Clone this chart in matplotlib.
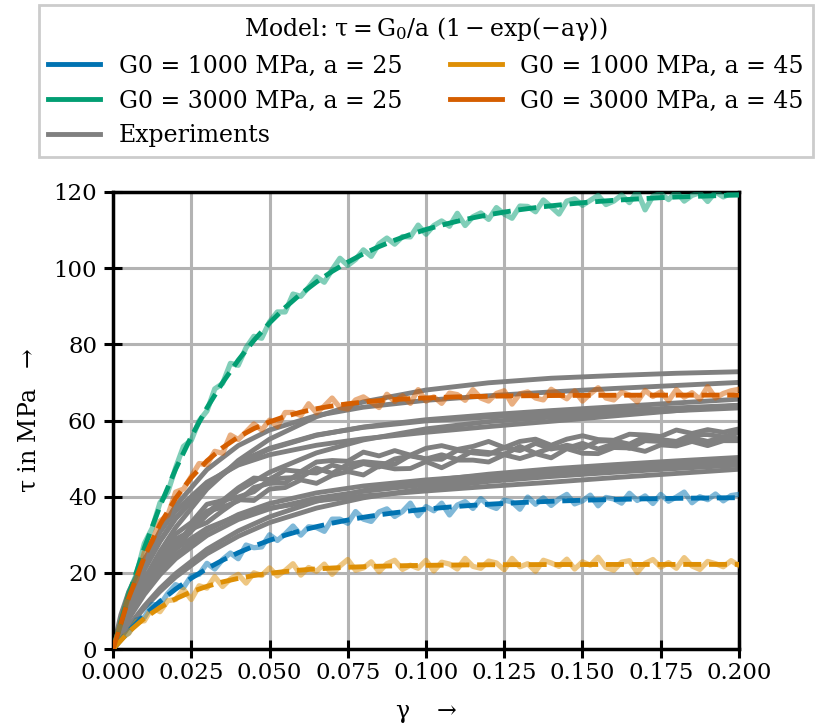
import numpy as np
import matplotlib
matplotlib.use("Agg")
import matplotlib.pyplot as plt
from matplotlib.lines import Line2D

plt.rcParams['font.family'] = ['DejaVu Serif']
plt.rcParams['mathtext.fontset'] = 'dejavuserif'
plt.rcParams['mathtext.default'] = 'regular'

# --- model curves, tau = G0/a (1 - exp(-a*gamma)) ---
gamma_model = np.linspace(0, 0.2, 41)
model_1000_25 = [0, 4.70, 8.85, 12.51, 15.74, 18.59, 21.10, 23.32, 25.28, 27.01, 28.54, 29.89, 31.08,
                 32.12, 33.05, 33.86, 34.59, 35.22, 35.78, 36.28, 36.72, 37.10, 37.44, 37.74, 38.01,
                 38.24, 38.45, 38.63, 38.79, 38.93, 39.06, 39.17, 39.27, 39.35, 39.43, 39.50, 39.56,
                 39.61, 39.65, 39.70, 39.73]
model_3000_25 = [0, 14.10, 26.55, 37.53, 47.22, 55.77, 63.30, 69.96, 75.84, 81.03, 85.62, 89.67, 93.24,
                 96.36, 99.15, 101.58, 103.77, 105.66, 107.34, 108.84, 110.16, 111.30, 112.32, 113.22,
                 114.03, 114.72, 115.35, 115.89, 116.37, 116.79, 117.18, 117.51, 117.81, 118.05, 118.29,
                 118.50, 118.68, 118.83, 118.95, 119.10, 119.19]
model_1000_45 = [0, 4.48, 8.05, 10.91, 13.19, 15.01, 16.46, 17.62, 18.55, 19.29, 19.88, 20.35, 20.73,
                 21.03, 21.27, 21.46, 21.61, 21.74, 21.83, 21.91, 21.97, 22.02, 22.06, 22.10, 22.12,
                 22.14, 22.16, 22.17, 22.18, 22.19, 22.19, 22.20, 22.20, 22.21, 22.21, 22.21, 22.21,
                 22.22, 22.22, 22.22, 22.22]
model_3000_45 = [0, 13.43, 24.16, 32.72, 39.56, 45.02, 49.39, 52.87, 55.65, 57.87, 59.64, 61.06, 62.19,
                 63.09, 63.81, 64.39, 64.85, 65.22, 65.51, 65.74, 65.93, 66.07, 66.20, 66.29, 66.37,
                 66.43, 66.48, 66.52, 66.55, 66.58, 66.60, 66.61, 66.63, 66.64, 66.65, 66.65, 66.66,
                 66.66, 66.66, 66.67, 66.67]

# --- noisy synthetic data around each model ---
gamma_fine = np.linspace(0, 0.2, 81)
data_1000_25 = [0, 2.7, 4.2, 7.6, 8.3, 11.7, 11.6, 14.6, 16.9, 16.1, 19.2, 19.6, 22.5, 21.0, 23.5, 25.2,
                23.7, 27.3, 26.6, 26.8, 30.0, 28.5, 30.2, 32.3, 29.9, 32.1, 31.9, 30.9, 34.1, 34.1, 33.0,
                36.1, 34.1, 33.5, 36.0, 36.8, 34.8, 36.1, 38.3, 35.0, 37.4, 36.3, 38.3, 35.2, 37.8, 38.7,
                36.9, 39.5, 37.7, 36.9, 39.1, 38.6, 36.7, 39.9, 38.0, 39.7, 37.7, 39.4, 40.6, 38.1, 38.9,
                40.4, 37.6, 39.8, 39.4, 38.3, 40.9, 39.0, 40.2, 38.2, 40.6, 38.8, 39.9, 41.2, 38.4, 40.0,
                39.2, 40.7, 38.9, 40.3, 40.6]
data_3000_25 = [0, 6.9, 14.8, 19.6, 27.7, 31.7, 38.4, 41.2, 47.6, 53.2, 54.8, 59.9, 62.5, 68.3, 69.7,
                75.0, 74.5, 79.1, 82.1, 81.6, 85.9, 88.5, 88.5, 93.2, 92.6, 95.0, 97.7, 96.3, 99.6, 102.6,
                100.7, 102.3, 104.8, 103.1, 106.4, 107.9, 106.3, 108.3, 108.2, 111.3, 108.9, 111.2, 112.4,
                111.0, 114.4, 111.2, 113.5, 114.5, 112.8, 115.9, 114.2, 113.1, 116.3, 116.2, 114.8, 117.9,
                116.1, 114.2, 117.6, 118.2, 116.5, 117.8, 119.1, 116.7, 117.6, 119.2, 117.2, 120.2, 115.3,
                118.9, 119.6, 118.0, 120.1, 117.6, 119.1, 119.8, 117.5, 120.0, 118.7, 119.7, 119.4]
data_1000_45 = [0, 2.9, 4.1, 7.3, 7.4, 10.9, 9.8, 12.7, 13.0, 15.7, 13.0, 16.6, 16.0, 19.0, 16.4, 18.4,
                19.6, 17.3, 20.0, 19.3, 21.3, 19.2, 20.6, 22.4, 19.4, 21.4, 20.4, 22.3, 19.6, 21.8, 23.5,
                20.7, 21.3, 22.9, 20.3, 22.4, 23.3, 20.9, 22.0, 21.2, 23.3, 20.5, 22.8, 22.3, 21.0, 23.8,
                21.7, 21.2, 23.1, 22.6, 20.8, 23.8, 21.6, 22.4, 20.4, 23.3, 22.6, 21.7, 23.6, 21.0, 22.9,
                22.0, 24.1, 21.4, 20.7, 22.8, 23.2, 20.1, 22.5, 23.5, 21.5, 22.7, 21.2, 24.0, 21.8, 20.9,
                23.0, 22.4, 21.6, 23.2, 21.9]
data_3000_45 = [0, 6.8, 14.0, 18.3, 25.3, 28.3, 33.6, 35.1, 41.2, 42.0, 45.3, 48.7, 48.4, 51.9, 51.4,
                56.2, 55.0, 57.0, 59.1, 57.5, 60.1, 58.4, 62.1, 62.1, 61.3, 64.4, 62.0, 63.8, 65.9, 63.4,
                63.0, 65.4, 66.2, 64.8, 63.4, 66.9, 65.0, 66.5, 64.5, 68.1, 65.1, 66.2, 64.5, 67.2, 66.8,
                65.3, 68.1, 65.9, 65.1, 67.1, 67.8, 64.3, 67.0, 67.5, 65.9, 65.4, 68.2, 66.9, 65.7, 67.8,
                65.1, 67.0, 68.6, 65.9, 65.4, 67.4, 66.7, 64.9, 67.9, 66.3, 67.5, 65.2, 68.1, 66.1, 67.3,
                65.6, 68.9, 65.9, 67.1, 67.8, 68.2]

# --- experiments (smooth ones on a coarse grid, jagged ones on a finer grid) ---
gamma_exp = [0, 0.0025, 0.005, 0.01, 0.015, 0.02, 0.03, 0.04, 0.05, 0.065, 0.08, 0.1, 0.12, 0.14,
             0.16, 0.18, 0.2]
exp_smooth = [
    [0, 5.1, 9.8, 18.3, 25.6, 31.9, 42.0, 49.5, 55.1, 61.0, 64.9, 68.0, 69.9, 71.1, 71.8, 72.4, 72.8],
    [0, 6.7, 12.7, 22.9, 31.0, 37.6, 47.1, 53.4, 57.5, 61.3, 63.5, 65.3, 66.5, 67.5, 68.4, 69.2, 70.0],
    [0, 6.1, 11.5, 20.8, 28.2, 34.2, 42.9, 48.7, 52.5, 56.1, 58.3, 60.2, 61.5, 62.6, 63.6, 64.6, 65.6],
    [0, 9.0, 15.0, 23.5, 30.7, 36.3, 43.8, 48.3, 51.0, 53.5, 55.2, 56.9, 58.4, 59.8, 61.2, 62.6, 64.0],
    [0, 4.3, 8.2, 15.3, 21.4, 26.7, 35.2, 41.6, 46.4, 51.5, 54.9, 57.8, 59.7, 60.9, 61.8, 62.6, 63.3],
    [0, 6.2, 11.7, 21.0, 28.5, 34.5, 43.3, 49.0, 52.7, 56.2, 58.2, 59.9, 60.9, 61.8, 62.6, 63.3, 64.0],
    [0, 3.1, 6.1, 11.3, 15.9, 19.8, 26.2, 31.0, 34.7, 38.8, 41.6, 44.1, 45.9, 47.3, 48.4, 49.4, 50.3],
    [0, 4.2, 7.9, 14.3, 19.5, 23.7, 29.8, 34.0, 36.8, 39.6, 41.4, 43.2, 44.6, 45.8, 46.9, 48.1, 49.2],
    [0, 3.0, 5.8, 10.8, 15.1, 18.9, 25.0, 29.6, 33.2, 37.0, 39.7, 42.2, 44.0, 45.3, 46.4, 47.4, 48.3],
    [0, 5.2, 9.6, 16.8, 22.2, 26.3, 31.7, 35.0, 37.0, 38.9, 40.2, 41.5, 42.7, 43.8, 45.0, 46.1, 47.2],
    [0, 4.4, 8.3, 15.0, 20.4, 24.7, 31.1, 35.3, 38.2, 41.0, 42.8, 44.4, 45.6, 46.7, 47.7, 48.6, 49.6],
]
gamma_exp_fine = np.linspace(0, 0.2, 41)
exp_jagged = [
    [0, 9.9, 18.2, 23.7, 30.2, 33.2, 38.0, 39.0, 42.3, 44.9, 44.5, 47.0, 46.6, 49.1, 49.5, 49.3, 51.7,
     50.7, 52.1, 50.9, 52.7, 53.4, 52.4, 53.2, 54.5, 52.9, 54.5, 55.1, 53.5, 55.1, 56.0, 55.0, 54.8,
     56.4, 56.2, 55.8, 57.5, 56.6, 57.6, 56.9, 57.8],
    [0, 9.6, 16.5, 23.7, 27.1, 32.2, 36.2, 37.2, 38.9, 42.4, 43.5, 43.6, 46.5, 46.2, 48.3, 47.2, 48.7,
     47.8, 49.9, 50.7, 49.9, 49.8, 52.2, 51.5, 51.1, 52.9, 52.1, 54.0, 52.5, 53.5, 52.7, 54.6, 54.7,
     53.8, 55.8, 55.0, 54.5, 56.3, 56.3, 55.7, 56.8],
    [0, 9.4, 17.5, 22.6, 28.8, 31.1, 35.8, 39.0, 39.9, 41.3, 44.5, 44.9, 45.1, 47.5, 46.1, 48.5, 49.2,
     48.8, 48.5, 50.9, 49.9, 51.0, 49.8, 52.0, 51.6, 51.1, 53.2, 51.4, 52.8, 52.7, 54.0, 52.5, 53.9,
     52.7, 54.7, 54.5, 54.0, 55.5, 54.5, 55.7, 55.2],
    [0, 9.3, 15.9, 22.5, 26.1, 31.5, 33.2, 36.3, 39.2, 39.0, 42.0, 42.4, 44.4, 43.5, 45.6, 46.6, 45.7,
     48.1, 47.3, 47.4, 49.2, 47.6, 49.6, 49.6, 49.1, 51.0, 50.0, 51.3, 50.2, 52.6, 51.4, 51.3, 52.9,
     52.8, 51.9, 53.6, 53.3, 54.5, 53.4, 54.7, 54.7],
]

labels = ["G0 = 1000 MPa, a = 25", "G0 = 3000 MPa, a = 25",
          "G0 = 1000 MPa, a = 45", "G0 = 3000 MPa, a = 45"]
colors = ["#0173b2", "#029e73", "#de8f05", "#d55e00"]
models = [model_1000_25, model_3000_25, model_1000_45, model_3000_45]
noisy = [data_1000_25, data_3000_25, data_1000_45, data_3000_45]

fig = plt.figure(figsize=(8.15, 7.25), dpi=100)
ax = fig.add_axes([0.1387, 0.1048, 0.7680, 0.6304])

for y in exp_smooth:
    ax.plot(gamma_exp, y, color="gray", lw=3.5, solid_capstyle="round", zorder=2)
for y in exp_jagged:
    ax.plot(gamma_exp_fine, y, color="gray", lw=3.5, zorder=2)

for y, c in zip(noisy, colors):
    ax.plot(gamma_fine, y, color=c, lw=3.8, alpha=0.5, zorder=3)
for y, c in zip(models, colors):
    ax.plot(gamma_model, y, color=c, lw=3.5, ls="--", zorder=4)

xt = np.arange(0, 0.2001, 0.025)
ax.set_xlim(0, 0.2)
ax.set_ylim(0, 120)
ax.set_xticks(xt)
ax.set_xticklabels([f"{v:.3f}" for v in xt])
ax.set_yticks(range(0, 121, 20))
ax.tick_params(direction="inout", length=13, width=2.2, labelsize=16.5)
ax.tick_params(axis="x", pad=3)
ax.tick_params(axis="y", pad=5)
for s in ax.spines.values():
    s.set_linewidth(2.5)
ax.grid(True, color="#b3b3b3", lw=2.2)
ax.set_axisbelow(True)

ax.set_xlabel(r"$\gamma$   $\rightarrow$", fontsize=17, labelpad=13)
ax.set_ylabel(r"$\tau$ in MPa  $\rightarrow$", fontsize=17, labelpad=9)

handles = [Line2D([], [], color=colors[0], lw=3.5),
           Line2D([], [], color=colors[1], lw=3.5),
           Line2D([], [], color="gray", lw=3.5),
           Line2D([], [], color=colors[2], lw=3.5),
           Line2D([], [], color=colors[3], lw=3.5)]
leg_labels = [labels[0], labels[1], "Experiments", labels[2], labels[3]]
leg = ax.legend(handles, leg_labels, ncol=2, loc="lower center",
                bbox_to_anchor=(0.5, 1.077), borderaxespad=0,
                title=r"Model: $\tau = G_0/a\ (1 - \exp(-a\gamma))$",
                fontsize=17, title_fontsize=17, fancybox=False,
                edgecolor="#cccccc", framealpha=1, handlelength=2.2,
                columnspacing=2.0, labelspacing=0.5, borderpad=0.4)
leg.get_frame().set_linewidth(2)

fig.savefig("out.png", dpi=100)
